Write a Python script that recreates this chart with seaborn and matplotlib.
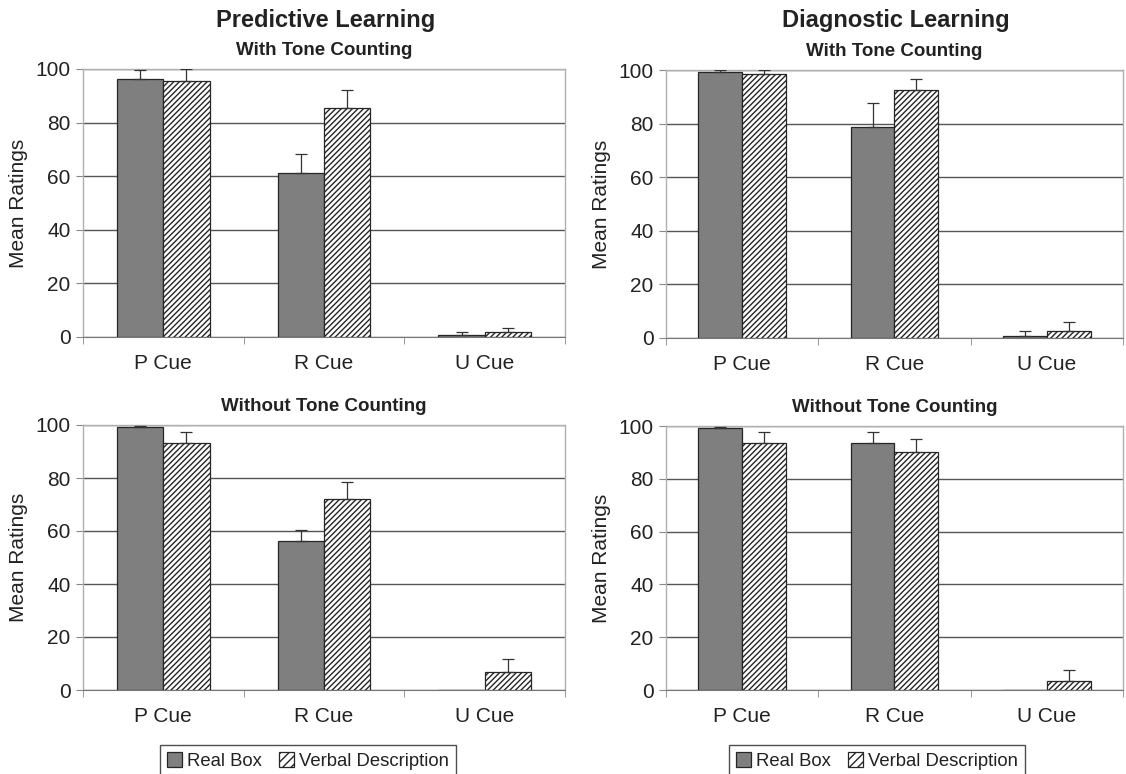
import pandas as pd
import seaborn as sns
import matplotlib.pyplot as plt
from matplotlib.patches import Patch

sns.set_style("white")
plt.rcParams["font.family"] = ["Liberation Sans", "DejaVu Sans"]
plt.rcParams["hatch.linewidth"] = 1.0

# Values (means and upward error bar lengths)
cues = ["P Cue", "R Cue", "U Cue"]
groups = ["Real Box", "Verbal Description"]

pred_with_real = [96.2, 61.2, 0.9]
pred_with_real_err = [3.4, 7.2, 0.8]
pred_with_verbal = [95.5, 85.5, 1.7]
pred_with_verbal_err = [4.6, 6.6, 1.6]

diag_with_real = [99.1, 78.6, 0.9]
diag_with_real_err = [0.9, 9.2, 1.6]
diag_with_verbal = [98.4, 92.6, 2.5]
diag_with_verbal_err = [1.6, 4.2, 3.4]

pred_without_real = [99.2, 56.1, 0.0]
pred_without_real_err = [0.6, 4.2, 0.0]
pred_without_verbal = [93.3, 72.0, 6.8]
pred_without_verbal_err = [4.2, 6.5, 4.8]

diag_without_real = [99.1, 93.5, 0.0]
diag_without_real_err = [0.7, 4.1, 0.0]
diag_without_verbal = [93.5, 90.1, 3.4]
diag_without_verbal_err = [4.1, 5.0, 4.1]

W, H = 1126, 774
fig = plt.figure(figsize=(W / 100, H / 100), dpi=100)


def box(left, right, top, bottom):
    return [left / W, 1 - bottom / H, (right - left) / W, (bottom - top) / H]


GRAY = "#7f7f7f"
EDGE = "#262626"


def panel(rect, real, real_err, verbal, verbal_err, subtitle):
    ax = fig.add_axes(rect)
    df = pd.DataFrame({
        "cue": cues * 2,
        "group": [groups[0]] * 3 + [groups[1]] * 3,
        "rating": real + verbal,
    })
    sns.barplot(data=df, x="cue", y="rating", hue="group", order=cues,
                hue_order=groups, palette=[GRAY, "white"], width=0.575,
                edgecolor=EDGE, linewidth=0.9, saturation=1, legend=False,
                errorbar=None, zorder=3, ax=ax)
    for bar in ax.containers[1]:
        bar.set_hatch("//////")
    for cont, errs in zip(ax.containers, [real_err, verbal_err]):
        for bar, e in zip(cont, errs):
            if e <= 0:
                continue
            x = bar.get_x() + bar.get_width() / 2
            y = bar.get_height()
            ax.errorbar(x, y, yerr=[[0], [e]], fmt="none", ecolor="#333333",
                        elinewidth=0.9, capsize=4, capthick=0.9, zorder=4)
    ax.set_ylim(0, 100)
    ax.set_xlim(-0.5, 2.5)
    ax.set_yticks([0, 20, 40, 60, 80, 100])
    ax.yaxis.grid(True, color="#555555", linewidth=1.0, zorder=0)
    ax.set_axisbelow(True)
    ax.set_xlabel("")
    ax.set_ylabel("Mean Ratings", fontsize=15, color="#222222", labelpad=5)
    ax.set_xticks([-0.5, 0.5, 1.5, 2.5], minor=True)
    ax.tick_params(axis="x", which="major", length=0, labelsize=15,
                   colors="#222222", pad=12)
    ax.tick_params(axis="x", which="minor", length=5, color="#888888",
                   direction="out", bottom=True)
    ax.tick_params(axis="y", length=5, color="#888888", labelsize=15,
                   labelcolor="#222222", pad=4, left=True, direction="out")
    for side in ["top", "right", "left"]:
        ax.spines[side].set_color("#b0b0b0")
        ax.spines[side].set_linewidth(1.0)
    ax.spines["bottom"].set_color("#777777")
    ax.set_title(subtitle, fontsize=13.5, fontweight="bold", color="#222222",
                 pad=10)
    return ax


panel(box(83, 565, 69, 337), pred_with_real, pred_with_real_err,
      pred_with_verbal, pred_with_verbal_err, "With Tone Counting")
panel(box(666, 1123, 70, 338), diag_with_real, diag_with_real_err,
      diag_with_verbal, diag_with_verbal_err, "With Tone Counting")
panel(box(83, 565, 425, 690), pred_without_real, pred_without_real_err,
      pred_without_verbal, pred_without_verbal_err, "Without Tone Counting")
panel(box(666, 1123, 426, 690), diag_without_real, diag_without_real_err,
      diag_without_verbal, diag_without_verbal_err, "Without Tone Counting")

fig.text(326 / W, 1 - 20 / H, "Predictive Learning", ha="center", va="center",
         fontsize=17, fontweight="bold", color="#222222")
fig.text(896 / W, 1 - 20 / H, "Diagnostic Learning", ha="center", va="center",
         fontsize=17, fontweight="bold", color="#222222")

handles = [Patch(facecolor=GRAY, edgecolor=EDGE, linewidth=0.9),
           Patch(facecolor="white", edgecolor=EDGE, hatch="////", linewidth=0.9)]
for cx in [308, 877]:
    leg = fig.legend(handles, groups, loc="upper center", ncol=2,
                     bbox_to_anchor=(cx / W, 1 - 745 / H), fontsize=13.3,
                     frameon=True, fancybox=False, edgecolor="#222222",
                     handlelength=0.8, handleheight=0.8, handletextpad=0.3,
                     columnspacing=0.9, borderpad=0.4, borderaxespad=0)
    leg.get_frame().set_linewidth(1.0)
    for t in leg.get_texts():
        t.set_color("#222222")

fig.savefig("out.png", dpi=100)
